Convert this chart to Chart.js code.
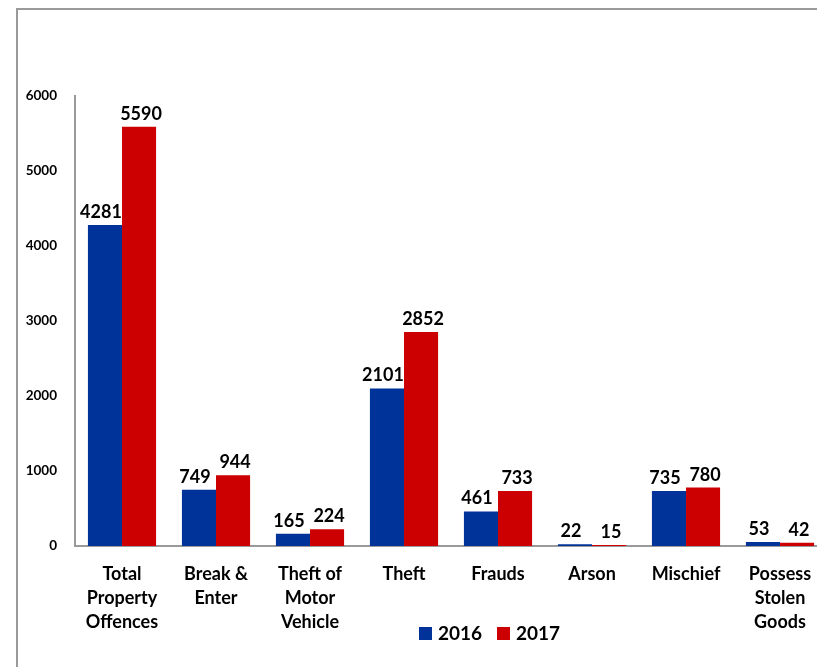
<!DOCTYPE html>
<html>
<head>
<meta charset="utf-8">
<script src="https://cdn.jsdelivr.net/npm/chart.js@4.4.0/dist/chart.umd.min.js"></script>
<style>
  html, body { margin: 0; padding: 0; background: #fff; overflow: hidden; }
  #wrap { position: absolute; left: 0; top: 0; width: 840px; height: 667px; }
</style>
</head>
<body>
<div id="wrap"><canvas id="c" width="840" height="667"></canvas></div>
<script>
const categories = [
  ["Total", "Property", "Offences"],
  ["Break &", "Enter"],
  ["Theft of", "Motor", "Vehicle"],
  ["Theft"],
  ["Frauds"],
  ["Arson"],
  ["Mischief"],
  ["Possess", "Stolen", "Goods"]
];
const seriesNames = ["2016", "2017"];
const values2016 = [4281, 749, 165, 2101, 461, 22, 735, 53];
const values2017 = [5590, 944, 224, 2852, 733, 15, 780, 42];
const yTicks = [0, 1000, 2000, 3000, 4000, 5000, 6000];

const BLUE = "#003399";
const RED = "#CC0000";
const FONT = "Lato";

const framePlugin = {
  id: "frame",
  beforeDraw(chart) {
    const ctx = chart.ctx;
    ctx.save();
    ctx.strokeStyle = "#9a9a9a";
    ctx.lineWidth = 2;
    ctx.beginPath();
    ctx.moveTo(17, 2000);
    ctx.lineTo(17, 9);
    ctx.lineTo(2000, 9);
    ctx.stroke();
    ctx.restore();
  }
};

const labelShift = [-4, 2];

const valueLabelPlugin = {
  id: "valueLabels",
  afterDatasetsDraw(chart) {
    const ctx = chart.ctx;
    ctx.save();
    ctx.font = "bold 18px " + FONT;
    ctx.fillStyle = "#000";
    ctx.textAlign = "center";
    ctx.textBaseline = "alphabetic";
    chart.data.datasets.forEach((ds, di) => {
      const meta = chart.getDatasetMeta(di);
      meta.data.forEach((bar, i) => {
        ctx.fillText(String(ds.data[i]), bar.x + labelShift[di], bar.y - 7);
      });
    });
    ctx.restore();
  }
};

const customLegendPlugin = {
  id: "customLegend",
  afterDraw(chart) {
    const ctx = chart.ctx;
    ctx.save();
    ctx.font = "bold 19px " + FONT;
    ctx.textBaseline = "middle";
    ctx.textAlign = "left";
    let x = 419;
    const y = 634;
    chart.data.datasets.forEach((ds) => {
      ctx.fillStyle = ds.backgroundColor;
      ctx.fillRect(x, y - 7, 13, 13);
      ctx.fillStyle = "#000";
      ctx.fillText(ds.label, x + 19, y);
      x += 78;
    });
    ctx.restore();
  }
};

new Chart(document.getElementById("c"), {
  type: "bar",
  data: {
    labels: categories,
    datasets: [
      { label: seriesNames[0], data: values2016, backgroundColor: BLUE, borderWidth: 0 },
      { label: seriesNames[1], data: values2017, backgroundColor: RED, borderWidth: 0 }
    ]
  },
  options: {
    responsive: false,
    animation: false,
    layout: { padding: { left: 0, right: 13, top: 96, bottom: 0 } },
    datasets: { bar: { categoryPercentage: 0.725, barPercentage: 1.0 } },
    plugins: {
      legend: { display: false },
      tooltip: { enabled: false }
    },
    scales: {
      x: {
        grid: { display: false, drawTicks: false },
        border: { display: true, color: "#9a9a9a", width: 2 },
        ticks: {
          color: "#000",
          font: { family: FONT, weight: "bold", size: 18, lineHeight: 1.33 },
          padding: 16,
          maxRotation: 0,
          autoSkip: false
        },
        afterFit(s) { s.height = 121; }
      },
      y: {
        min: 0,
        max: 6000,
        afterBuildTicks(s) { s.ticks = yTicks.map(v => ({ value: v })); },
        grid: { display: false, drawTicks: false },
        border: { display: true, color: "#9a9a9a", width: 2 },
        ticks: {
          color: "#000",
          font: { family: FONT, weight: "bold", size: 13.5 },
          padding: 18,
          callback: (v) => String(v)
        },
        afterFit(s) { s.width = 75; }
      }
    }
  },
  plugins: [framePlugin, valueLabelPlugin, customLegendPlugin]
});
</script>
</body>
</html>
